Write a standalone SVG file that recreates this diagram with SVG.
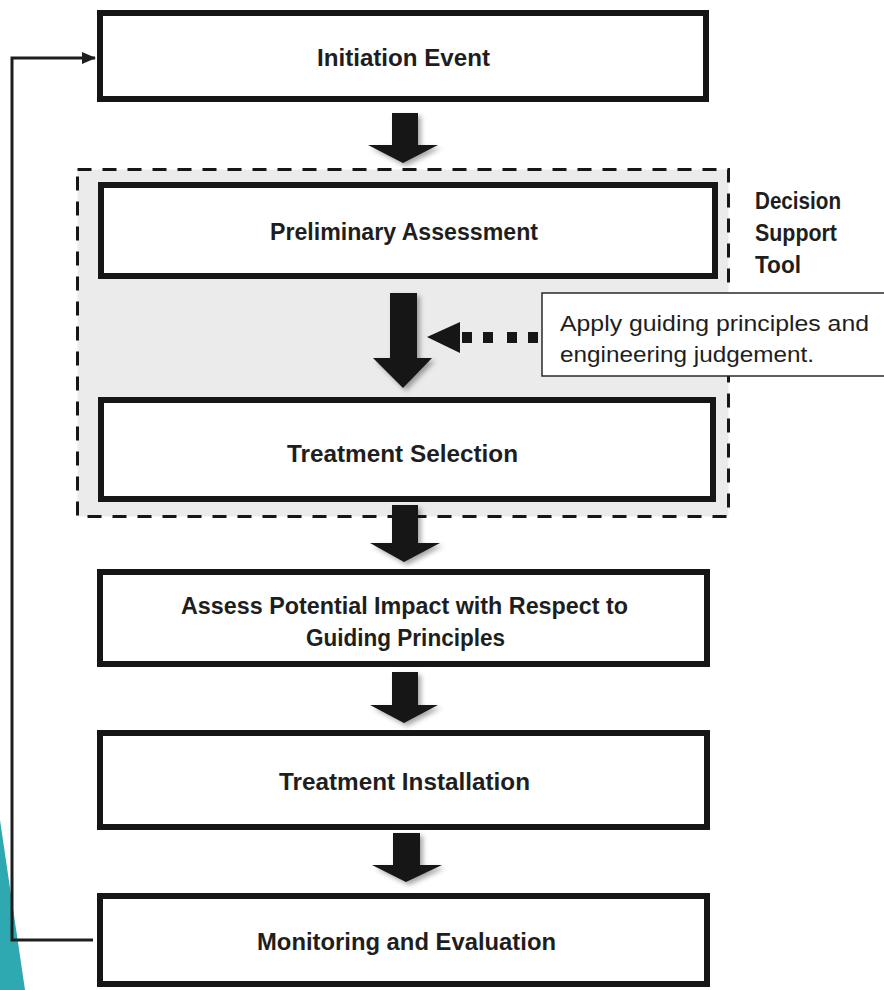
<svg xmlns="http://www.w3.org/2000/svg" width="884" height="990" viewBox="0 0 884 990">
<defs>
<style>
.box{fill:#ffffff;stroke:#161616;stroke-width:6}
.lbl{font-family:"Liberation Sans","Noto Sans",Arial,sans-serif;font-weight:bold;font-size:23px;fill:#1e1e1e}
.note{font-family:"Liberation Sans","Noto Sans",Arial,sans-serif;font-size:22px;fill:#1e1e1e}
.arr{fill:#161616;filter:url(#sh)}
.line{fill:none;stroke:#1e1e1e;stroke-width:3}
</style>
<filter id="sh" x="-30%" y="-30%" width="160%" height="160%">
<feDropShadow dx="3" dy="3" stdDeviation="2.5" flood-color="#000" flood-opacity="0.35"/>
</filter>
<marker id="ah" markerWidth="14" markerHeight="14" refX="13" refY="7" orient="auto" markerUnits="userSpaceOnUse" viewBox="0 0 14 14">
<path d="M0,1 L14,7 L0,13 Z" fill="#1e1e1e"/>
</marker>
</defs>
<rect width="884" height="990" fill="#ffffff"/>
<polygon points="0,820 25,990 0,990" fill="#2ea9b1"/>

<g id="decision-support-tool">
<rect x="77.5" y="169.5" width="651" height="347" fill="#ebebeb" stroke="#161616" stroke-width="3" stroke-dasharray="14 11"/>
<text class="lbl" x="755" y="209" textLength="86" lengthAdjust="spacingAndGlyphs">Decision</text>
<text class="lbl" x="755" y="241" textLength="82" lengthAdjust="spacingAndGlyphs">Support</text>
<text class="lbl" x="755" y="273" textLength="46" lengthAdjust="spacingAndGlyphs">Tool</text>
</g>

<g id="connectors">
<polyline class="line" points="93,940 12,940 12,58 95,58" marker-end="url(#ah)"/>
<polygon class="arr" points="392,113 418,113 418,145 438,145 403,163 368,145 392,145"/>
<polygon class="arr" points="390,293 417,293 417,358 432,358 403,388 373,358 390,358"/>
<polygon class="arr" points="392,505 418,505 418,543 440,543 404,562 370,543 392,543"/>
<polygon class="arr" points="392,672 418,672 418,705 438,705 404,723 370,705 392,705"/>
<polygon class="arr" points="393,833 420,833 420,865 442,865 406,882 372,865 393,865"/>
<polygon points="427,337 460,322 460,353" fill="#161616"/>
<rect x="462" y="332" width="10" height="11" fill="#161616"/>
<rect x="483" y="332" width="10" height="11" fill="#161616"/>
<rect x="507" y="332" width="10" height="11" fill="#161616"/>
<rect x="528" y="332" width="10" height="11" fill="#161616"/>
</g>

<g id="note">
<rect x="542" y="293" width="345" height="83" fill="#ffffff" stroke="#2a2a2a" stroke-width="1.5"/>
<text class="note" x="560" y="331" textLength="309" lengthAdjust="spacingAndGlyphs">Apply guiding principles and</text>
<text class="note" x="560" y="362" textLength="254" lengthAdjust="spacingAndGlyphs">engineering judgement.</text>
</g>

<g id="initiation-event">
<rect class="box" x="100" y="13" width="606" height="86"/>
<text class="lbl" x="317" y="66" textLength="173" lengthAdjust="spacingAndGlyphs">Initiation Event</text>
</g>

<g id="preliminary-assessment">
<rect class="box" x="101" y="185" width="614" height="91"/>
<text class="lbl" x="270" y="240" textLength="268" lengthAdjust="spacingAndGlyphs">Preliminary Assessment</text>
</g>

<g id="treatment-selection">
<rect class="box" x="101" y="400" width="612" height="99"/>
<text class="lbl" x="287" y="462" textLength="231" lengthAdjust="spacingAndGlyphs">Treatment Selection</text>
</g>

<g id="assess-impact">
<rect class="box" x="100" y="572" width="607" height="92"/>
<text class="lbl" x="181" y="614" textLength="447" lengthAdjust="spacingAndGlyphs">Assess Potential Impact with Respect to</text>
<text class="lbl" x="306" y="646" textLength="199" lengthAdjust="spacingAndGlyphs">Guiding Principles</text>
</g>

<g id="treatment-installation">
<rect class="box" x="100" y="733" width="607" height="94"/>
<text class="lbl" x="279" y="790" textLength="251" lengthAdjust="spacingAndGlyphs">Treatment Installation</text>
</g>

<g id="monitoring-evaluation">
<rect class="box" x="100" y="896" width="607" height="88"/>
<text class="lbl" x="257" y="950" textLength="299" lengthAdjust="spacingAndGlyphs">Monitoring and Evaluation</text>
</g>
</svg>
